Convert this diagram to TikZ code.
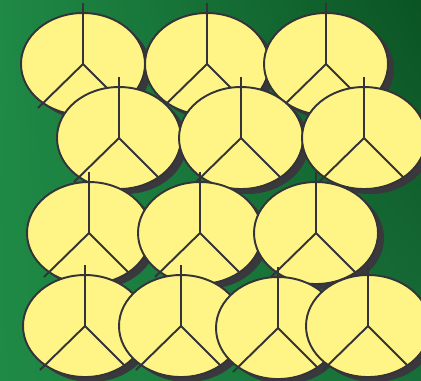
\documentclass[tikz,border=0pt]{standalone}
\usepackage{tikz}
\usetikzlibrary{shadings}
\definecolor{bgul}{HTML}{1F8946}
\definecolor{bgur}{HTML}{0B5424}
\definecolor{bgll}{HTML}{1E8A45}
\definecolor{bglr}{HTML}{186E38}
\definecolor{pieyellow}{HTML}{FFF587}
\definecolor{pieink}{HTML}{333338}
\definecolor{pieshade}{HTML}{38383D}

\begin{document}
\begin{tikzpicture}[x=0.02cm, y=-0.02cm,
  pie/.style={fill=pieyellow, draw=pieink, line width=1.1pt},
  pieshadow/.style={fill=pieshade},
  spoke/.style={draw=pieink, line width=1.1pt}]
  % ── Background (421 x 380 px, y runs down) ─────────────────────────────
  \useasboundingbox (0,0) rectangle (421,380);
  \shade[upper left=bgul, upper right=bgur, lower left=bgll, lower right=bglr]
    (0,0) rectangle (421,380);
  \clip (0,0) rectangle (421,380);

  % ── Pies, back row first (centre x / centre y) ──────────────────────────
  \foreach \x/\y in {
    83/64,  207/64,  326/64,
    119/138, 241/138, 364/138,
    89/233,  200/233, 316/233,
    85/326,  181/326, 278/328, 368/326}{
    \fill[pieshadow] (\x+6,\y+5) ellipse [x radius=62, y radius=51];
    \draw[pie] (\x,\y) ellipse [x radius=62, y radius=51];
    \draw[spoke] (\x,\y-61) -- (\x,\y) -- (\x+39,\y+39);
    \draw[spoke] (\x,\y) -- (\x-45,\y+44);
  }
\end{tikzpicture}
\end{document}
